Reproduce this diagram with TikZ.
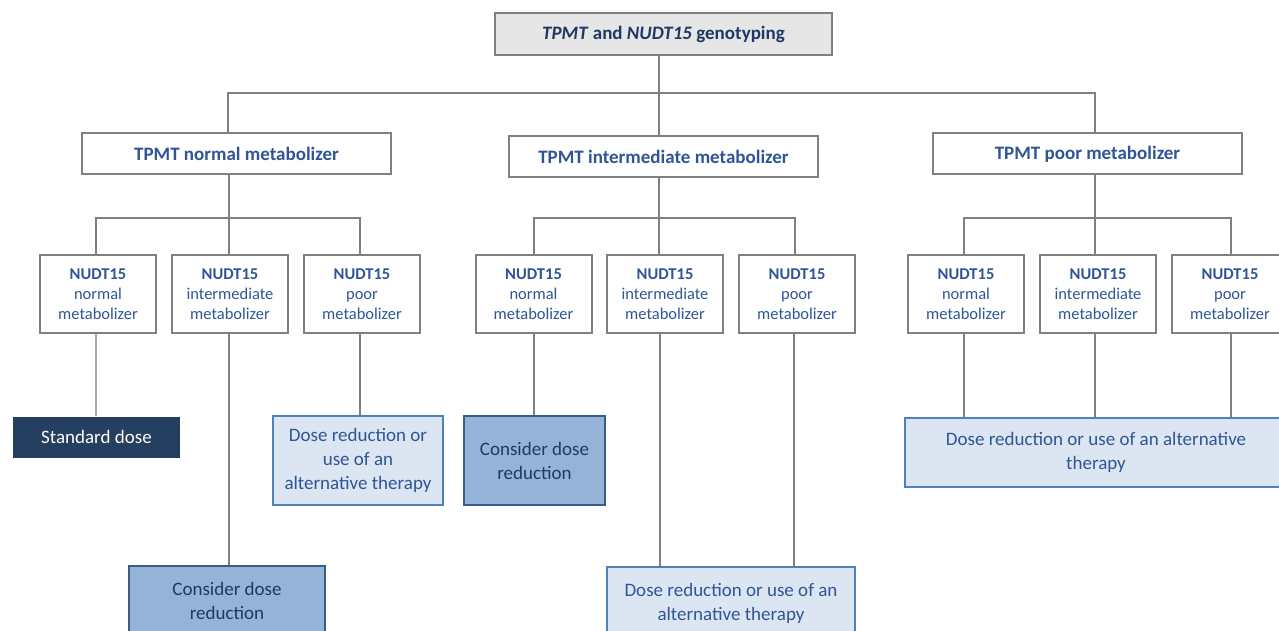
\documentclass[tikz,border=0pt]{standalone}
\usepackage{fontspec}
\setmainfont{Carlito}
\definecolor{lgrey}{RGB}{128,128,128}
\definecolor{llgrey}{RGB}{170,170,170}
\definecolor{topfill}{RGB}{231,230,230}
\definecolor{navy}{RGB}{31,56,100}
\definecolor{tblue}{RGB}{47,85,151}
\definecolor{darkbox}{RGB}{36,63,96}
\definecolor{midfill}{RGB}{149,179,215}
\definecolor{midborder}{RGB}{56,93,138}
\definecolor{lightfill}{RGB}{220,230,242}
\definecolor{lightborder}{RGB}{79,129,189}
\tikzset{
  conn/.style={draw=lgrey, line width=2pt},
  topbox/.style={draw=lgrey, line width=2pt, fill=topfill, inner sep=0pt,
    minimum width=337pt, minimum height=42pt, text=navy,
    font=\bfseries\fontsize{19}{22}\selectfont},
  tbox/.style={draw=lgrey, line width=2pt, fill=white, inner sep=0pt,
    minimum width=309pt, minimum height=41pt, text=tblue,
    font=\bfseries\fontsize{19}{22}\selectfont},
  nbox/.style={draw=lgrey, line width=2pt, fill=white, inner sep=0pt,
    minimum width=116pt, minimum height=78pt, text width=116pt, align=center,
    text=tblue, font=\fontsize{16.5}{20}\selectfont},
  darkout/.style={fill=darkbox, inner sep=0pt, text=white, align=center,
    font=\fontsize{19}{24}\selectfont},
  midout/.style={draw=midborder, line width=2pt, fill=midfill, inner sep=0pt,
    text=navy, align=center, font=\fontsize{19}{24}\selectfont},
  lightout/.style={draw=lightborder, line width=2pt, fill=lightfill, inner sep=0pt,
    text=tblue, align=center, font=\fontsize{19}{24}\selectfont},
}
\begin{document}
\begin{tikzpicture}[x=1pt,y=-1pt]
\useasboundingbox (0,0) rectangle (1279,631);
\clip (0,0) rectangle (1279,631);
% level 0
\node[topbox] (top) at (663.5,34) {\textit{TPMT} and \textit{NUDT15} genotyping};
% level 1
\node[tbox] (tn) at (236.5,154) {TPMT normal metabolizer};
\node[tbox] (ti) at (663.5,157) {TPMT intermediate metabolizer};
\node[tbox] (tp) at (1087.5,154) {TPMT poor metabolizer};
% level 2
\node[nbox] (n1) at (98,294) {\textbf{NUDT15}\\normal\\metabolizer};
\node[nbox] (n2) at (230,294) {\textbf{NUDT15}\\intermediate\\metabolizer};
\node[nbox] (n3) at (362,294) {\textbf{NUDT15}\\poor\\metabolizer};
\node[nbox] (n4) at (533.5,294) {\textbf{NUDT15}\\normal\\metabolizer};
\node[nbox] (n5) at (665,294) {\textbf{NUDT15}\\intermediate\\metabolizer};
\node[nbox] (n6) at (797,294) {\textbf{NUDT15}\\poor\\metabolizer};
\node[nbox] (n7) at (966,294) {\textbf{NUDT15}\\normal\\metabolizer};
\node[nbox] (n8) at (1098,294) {\textbf{NUDT15}\\intermediate\\metabolizer};
\node[nbox] (n9) at (1230,294) {\textbf{NUDT15}\\poor\\metabolizer};
% outcomes
\node[darkout, minimum width=167pt, minimum height=41pt] (sd) at (96.5,437) {Standard dose};
\node[midout, minimum width=196pt, minimum height=69pt] (cdl) at (227,600.5) {Consider dose\\reduction};
\node[lightout, minimum width=170pt, minimum height=89pt] (drl) at (358,460.5) {Dose reduction or\\use of an\\alternative therapy};
\node[midout, minimum width=141pt, minimum height=89pt] (cdm) at (534.5,460.5) {Consider dose\\reduction};
\node[lightout, minimum width=248pt, minimum height=72pt] (drm) at (731,603) {Dose reduction or use of an\\alternative therapy};
\node[lightout, minimum width=382pt, minimum height=69pt] (drr) at (1096,452.5) {Dose reduction or use of an alternative\\therapy};
% bus coordinates
\coordinate (j0) at (659,93);
\coordinate (jl) at (228,93);
\coordinate (jr) at (1095,93);
\coordinate (a1) at (96,218);  \coordinate (a2) at (229,218); \coordinate (a3) at (360,218);
\coordinate (b1) at (534,218); \coordinate (b2) at (659,218); \coordinate (b3) at (795,218);
\coordinate (c1) at (964,218); \coordinate (c2) at (1095,218); \coordinate (c3) at (1231,218);
% level 0 -> 1
\draw[conn] (top.south -| j0) -- (j0);
\draw[conn] (tn.north -| jl) -- (jl) -- (jr) -- (tp.north -| jr);
\draw[conn] (j0) -- (ti.north -| j0);
% level 1 -> 2
\draw[conn] (tn.south -| a2) -- (a2);
\draw[conn] (n1.north -| a1) -- (a1) -- (a3) -- (n3.north -| a3);
\draw[conn] (a2) -- (n2.north -| a2);
\draw[conn] (ti.south -| b2) -- (b2);
\draw[conn] (n4.north -| b1) -- (b1) -- (b3) -- (n6.north -| b3);
\draw[conn] (b2) -- (n5.north -| b2);
\draw[conn] (tp.south -| c2) -- (c2);
\draw[conn] (n7.north -| c1) -- (c1) -- (c3) -- (n9.north -| c3);
\draw[conn] (c2) -- (n8.north -| c2);
% level 2 -> outcomes
\draw[draw=llgrey, line width=2pt] (n1.south -| a1) -- (sd.north -| a1);
\draw[conn] (n2.south -| a2) -- (cdl.north -| a2);
\draw[conn] (n3.south -| a3) -- (drl.north -| a3);
\draw[conn] (n4.south -| b1) -- (cdm.north -| b1);
\coordinate (m5) at (660,218);
\coordinate (m6) at (794,218);
\draw[conn] (n5.south -| m5) -- (drm.north -| m5);
\draw[conn] (n6.south -| m6) -- (drm.north -| m6);
\draw[conn] (n7.south -| c1) -- (drr.north -| c1);
\draw[conn] (n8.south -| c2) -- (drr.north -| c2);
\draw[conn] (n9.south -| c3) -- (drr.north -| c3);
\end{tikzpicture}
\end{document}
